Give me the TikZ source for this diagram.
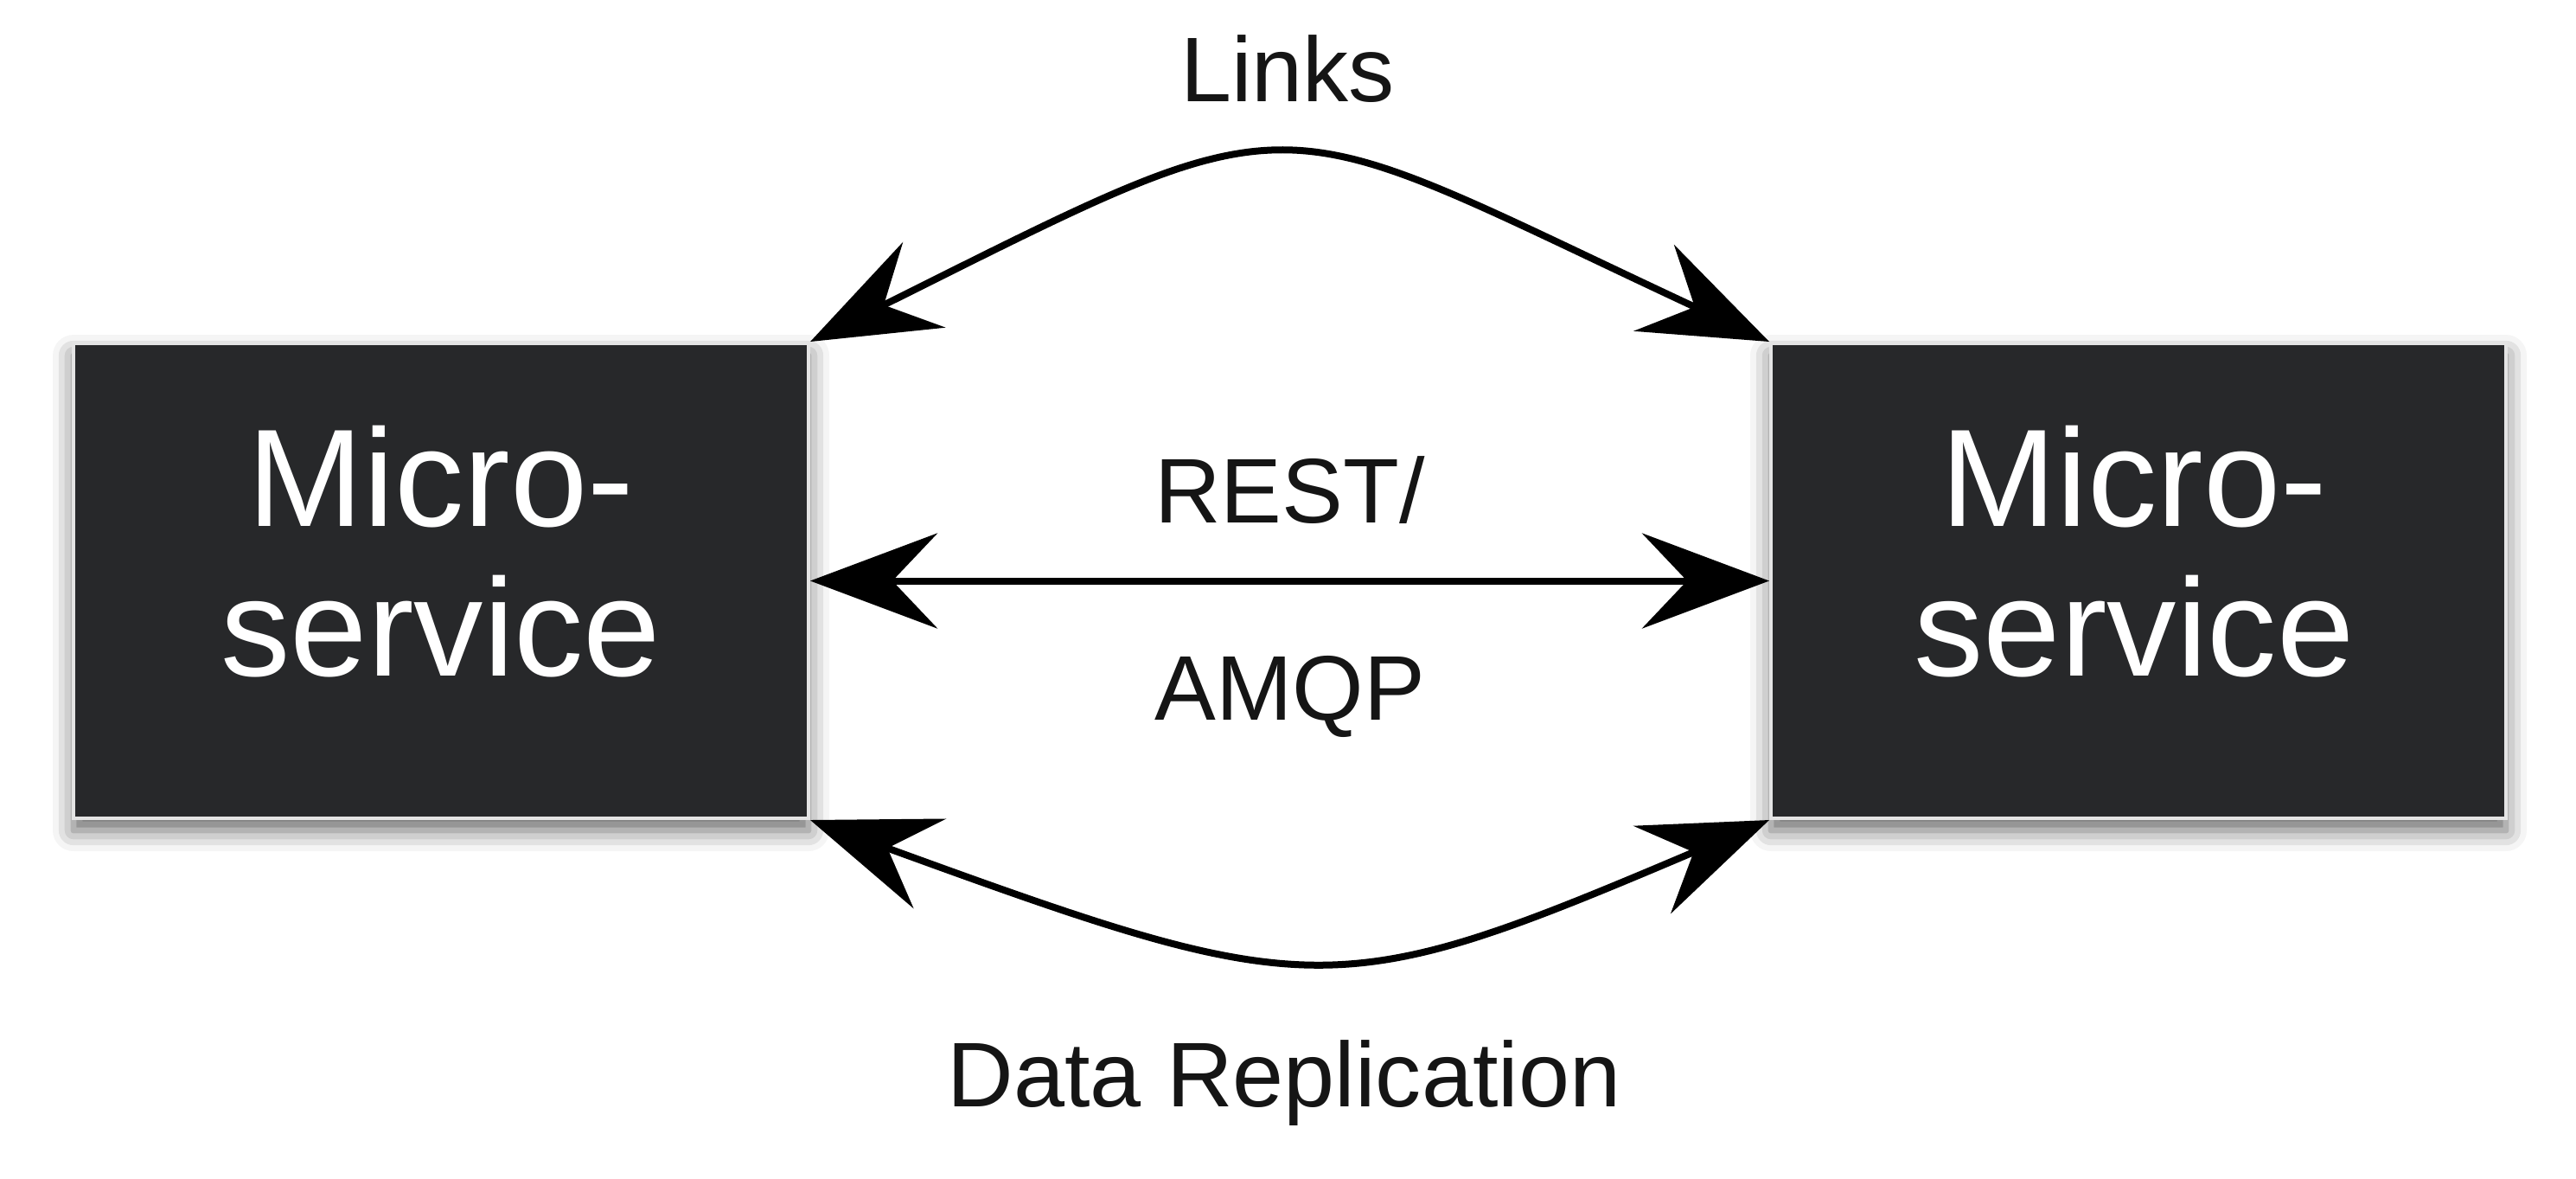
\documentclass[tikz,border=0pt]{standalone}
\usepackage{fontspec}
\setmainfont{Liberation Sans}
\usetikzlibrary{arrows.meta,shadows,shadows.blur,positioning}
\definecolor{boxgray}{HTML}{27282A}
\definecolor{rimgray}{HTML}{E4E4E4}
\definecolor{inkgray}{HTML}{151515}

\begin{document}
\begin{tikzpicture}[
    msbox/.style={rectangle, fill=boxgray, draw=rimgray, line width=0.4mm,
      minimum width=8.5cm, minimum height=5.49cm, inner sep=0pt,
      blur shadow={shadow xshift=0cm, shadow yshift=-0.14cm,
        shadow blur radius=0.24cm, shadow opacity=60}},
    mstext/.style={text=white, align=center, font=\fontsize{45.7}{49.2}\selectfont},
    lbl/.style={text=inkgray, font=\fontsize{30.2}{34}\selectfont},
    link/.style={line width=0.8mm, >={Stealth[length=14.7mm,width=11mm,inset=5.2mm]}, <->}
  ]
  \useasboundingbox (0,0) rectangle (29.79,-13.62);

  % the two services
  \node[msbox] (lbox) at (5.10,-6.715) {};
  \node[msbox] (rbox) at (24.73,-6.715) {};
  \node[mstext] (ltext) at ([yshift=3.4mm]lbox.center) {Micro-\\service};
  \node[mstext] (rtext) at ([xshift=-0.5mm,yshift=3.4mm]rbox.center) {Micro-\\service};

  % links on top
  \draw[link] (lbox.north east) .. controls +(26.5:6.5) and +(155:6.5) .. (rbox.north west);
  \node[lbl] (links) at (14.89,-0.80) {Links};

  % direct calls
  \draw[link] (lbox) -- node[lbl,yshift=1.05cm] (rest) {REST/}
                        node[lbl,yshift=-1.34cm] (amqp) {AMQP} (rbox);

  % replication below
  \draw[link] (lbox.south east) .. controls +(-20:6.2) and +(-157:5.45) .. (rbox.south west);
  \node[lbl] (repl) at (14.85,-12.52) {Data Replication};
\end{tikzpicture}
\end{document}
